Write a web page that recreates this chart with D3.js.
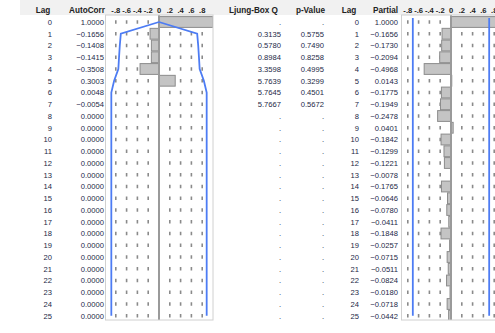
<!DOCTYPE html>
<html><head><meta charset="utf-8">
<script src="https://cdn.jsdelivr.net/npm/d3@7"></script>
<style>
html,body{margin:0;padding:0;background:#fff;overflow:hidden;}
svg{display:block;font-family:"Liberation Sans",Arial,sans-serif;}
</style></head>
<body>
<svg id="chart" width="495" height="333"></svg>
<script>
const lags = [0,1,2,3,4,5,6,7,8,9,10,11,12,13,14,15,16,17,18,19,20,21,22,23,24,25];
const autoCorr = [1.0000,-0.1656,-0.1408,-0.1415,-0.3508,0.3003,0.0048,-0.0054,
  0,0,0,0,0,0,0,0,0,0,0,0,0,0,0,0,0,0];
const acfBand = [0,0.707,0.726,0.740,0.753,0.831,0.883,0.883,
  0.883,0.883,0.883,0.883,0.883,0.883,0.883,0.883,0.883,0.883,0.883,0.883,0.883,0.883,0.883,0.883,0.883,0.883];
const ljungBoxQ = [null,0.3135,0.5780,0.8984,3.3598,5.7639,5.7645,5.7667,
  null,null,null,null,null,null,null,null,null,null,null,null,null,null,null,null,null,null];
const pValue = [null,0.5755,0.7490,0.8258,0.4995,0.3299,0.4501,0.5672,
  null,null,null,null,null,null,null,null,null,null,null,null,null,null,null,null,null,null];
const partial = [1.0000,-0.1656,-0.1730,-0.2094,-0.4968,0.0143,-0.1775,-0.1949,-0.2478,0.0401,
  -0.1842,-0.1299,-0.1221,-0.0078,-0.1765,-0.0646,-0.0780,-0.0411,-0.1848,-0.0257,
  -0.0715,-0.0511,-0.0824,-0.0180,-0.0718,-0.0442];
const pacfLimit = 0.707;
const tickValues = [-0.8,-0.6,-0.4,-0.2,0,0.2,0.4,0.6,0.8];
const tickLabels = ["-.8","-.6","-.4","-.2","0",".2",".4",".6",".8"];

const svg = d3.select("#chart");
const fmt = d3.format(".4f");
const txtColor = "#232846";
const boxTop = 15, boxBottom = 320;

const y = d3.scaleLinear().domain([0,25]).range([22, 22 + 25*11.75]);
const acfX = d3.scaleLinear().domain([-1,1]).range([105,213]);
const pacfX = d3.scaleLinear().domain([-1,1]).range([397,505]);

// header band
svg.append("rect").attr("x",20).attr("y",0).attr("width",475).attr("height",boxTop)
  .attr("fill","#f1f1f1");

function header(x, label, anchor){
  svg.append("text").attr("x",x).attr("y",12.5).attr("text-anchor",anchor)
    .attr("font-size",8.2).attr("font-weight","bold").attr("fill","#222").text(label);
}
header(43,"Lag","middle");
header(105,"AutoCorr","end");
header(278,"Ljung-Box Q","end");
header(325,"p-Value","end");
header(349,"Lag","middle");
header(398,"Partial","end");

function column(x, values, fn, anchor){
  svg.append("g").selectAll("text").data(values).join("text")
    .attr("x",x).attr("y",(d,i)=>y(lags[i])+2.8)
    .attr("text-anchor",anchor).attr("font-size",7.6).attr("fill",txtColor)
    .text(fn);
}
column(52, lags, d=>d, "end");
column(104, autoCorr, d=>fmt(d), "end");
column(281, ljungBoxQ, d=>d===null?".":fmt(d), "end");
column(324, pValue, d=>d===null?".":fmt(d), "end");
column(359, lags, d=>d, "end");
column(398, partial, d=>fmt(d), "end");

function panel(x, left, right, values, clipId){
  const g = svg.append("g");
  svg.append("clipPath").attr("id",clipId).append("rect")
    .attr("x",left).attr("y",boxTop).attr("width",right-left).attr("height",boxBottom-boxTop);
  // tick labels
  g.selectAll("text.tk").data(tickValues).join("text").attr("class","tk")
    .attr("x",d=>x(d)).attr("y",12.5).attr("text-anchor","middle")
    .attr("font-size",7.6).attr("font-weight","bold").attr("fill","#222")
    .text((d,i)=>tickLabels[i]);
  const inner = g.append("g").attr("clip-path",`url(#${clipId})`);
  // dotted grid
  const gridTicks = tickValues.filter(v=>v!==0);
  gridTicks.forEach(t=>{
    inner.append("g").selectAll("line").data(lags).join("line")
      .attr("x1",x(t)).attr("x2",x(t))
      .attr("y1",d=>y(d)-1.8).attr("y2",d=>y(d)+1.8)
      .attr("stroke","#8a8a8a").attr("stroke-width",1.6);
  });
  // bars
  inner.append("g").selectAll("rect").data(values).join("rect")
    .attr("x",d=>Math.min(x(0),x(d)))
    .attr("width",d=>Math.abs(x(d)-x(0)))
    .attr("y",(d,i)=>y(lags[i])-5.4).attr("height",10.8)
    .attr("fill","#c4c4c4").attr("stroke","#8c8c8c").attr("stroke-width",1);
  // zero line
  inner.append("line").attr("x1",x(0)).attr("x2",x(0)).attr("y1",boxTop).attr("y2",boxBottom)
    .attr("stroke","#9a9a9a").attr("stroke-width",2);
  // box
  g.append("rect").attr("x",left).attr("y",boxTop).attr("width",right-left).attr("height",boxBottom-boxTop)
    .attr("fill","none").attr("stroke","#d0d0d0").attr("stroke-width",1);
  return inner;
}

const acfG = panel(acfX, 105.5, 213, autoCorr, "clipA");
const blue = "#4d7cf4";
[-1,1].forEach(s=>{
  const line = d3.line().x((d,i)=>acfX(s*d)).y((d,i)=>y(lags[i]));
  acfG.append("path").attr("d",line(acfBand)).attr("fill","none")
    .attr("stroke",blue).attr("stroke-width",1.8);
});

const pacfG = panel(pacfX, 401.5, 500, partial, "clipP");
[-pacfLimit, pacfLimit].forEach(v=>{
  pacfG.append("line").attr("x1",pacfX(v)).attr("x2",pacfX(v))
    .attr("y1",y(0)-4).attr("y2",y(25))
    .attr("stroke",blue).attr("stroke-width",1.8);
});
</script>
</body></html>
